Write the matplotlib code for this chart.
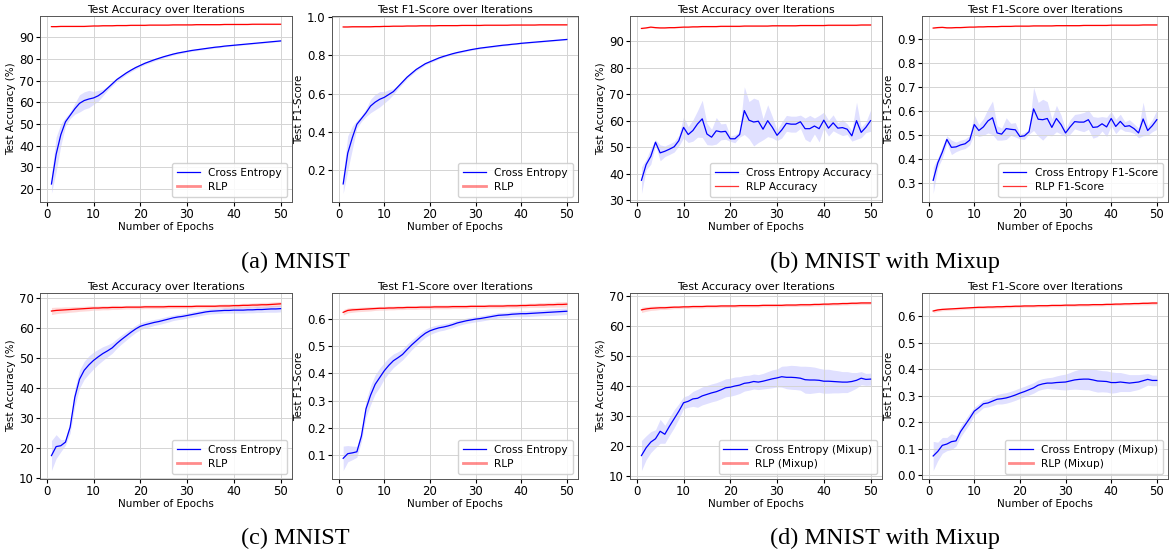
import numpy as np
import matplotlib
matplotlib.use("Agg")
import matplotlib.pyplot as plt
from matplotlib.lines import Line2D
from matplotlib.ticker import MultipleLocator

# === Epoch axis ===
epochs = list(range(1, 51))

# === (a) MNIST ===
a_acc_ce = [22.3, 36.0, 45.0, 51.0, 54.0, 57.0, 59.5, 60.8, 61.5, 62.0,
            63.0, 64.5, 66.5, 68.5, 70.5, 72.0, 73.5, 74.8, 76.0, 77.0,
            78.0, 78.8, 79.6, 80.3, 81.0, 81.6, 82.2, 82.7, 83.1, 83.5,
            83.9, 84.2, 84.5, 84.8, 85.1, 85.4, 85.6, 85.9, 86.1, 86.3,
            86.5, 86.7, 86.9, 87.1, 87.3, 87.5, 87.7, 87.9, 88.1, 88.3]
a_acc_ce_std = [4.3, 8.0, 5.0, 2.0, 1.5, 2.5, 4.0, 4.0, 4.0, 3.0,
                2.5, 1.5, 1.0, 0.9, 0.8, 0.8, 0.7, 0.7, 0.7, 0.6,
                0.6, 0.6, 0.6, 0.5, 0.5, 0.5, 0.5, 0.5, 0.5, 0.4,
                0.4, 0.4, 0.4, 0.4, 0.4, 0.4, 0.4, 0.3, 0.3, 0.3,
                0.3, 0.3, 0.3, 0.3, 0.3, 0.3, 0.3, 0.3, 0.3, 0.3]
a_acc_rlp = [94.9, 94.9, 95.0, 95.0, 95.0, 95.0, 95.0, 95.0, 95.1, 95.2,
             95.2, 95.3, 95.3, 95.3, 95.4, 95.4, 95.4, 95.5, 95.5, 95.5,
             95.5, 95.6, 95.6, 95.6, 95.6, 95.6, 95.7, 95.7, 95.7, 95.7,
             95.7, 95.8, 95.8, 95.8, 95.8, 95.8, 95.8, 95.9, 95.9, 95.9,
             95.9, 95.9, 95.9, 96.0, 96.0, 96.0, 96.0, 96.0, 96.0, 96.0]
a_acc_rlp_std = [0.2, 0.2, 0.2, 0.2, 0.2, 0.2, 0.2, 0.2, 0.2, 0.2,
                 0.2, 0.2, 0.2, 0.2, 0.2, 0.2, 0.2, 0.2, 0.2, 0.2,
                 0.2, 0.2, 0.2, 0.2, 0.2, 0.2, 0.2, 0.2, 0.2, 0.2,
                 0.2, 0.2, 0.2, 0.2, 0.2, 0.2, 0.2, 0.2, 0.2, 0.2,
                 0.2, 0.2, 0.2, 0.2, 0.2, 0.2, 0.2, 0.2, 0.2, 0.2]
a_f1_ce = [0.13, 0.29, 0.37, 0.44, 0.47, 0.50, 0.535, 0.555, 0.57, 0.58,
           0.595, 0.61, 0.635, 0.66, 0.685, 0.705, 0.725, 0.74, 0.755, 0.765,
           0.775, 0.785, 0.793, 0.80, 0.807, 0.813, 0.818, 0.823, 0.828, 0.832,
           0.836, 0.839, 0.842, 0.845, 0.848, 0.851, 0.853, 0.856, 0.858, 0.861,
           0.863, 0.865, 0.867, 0.869, 0.871, 0.873, 0.875, 0.877, 0.879, 0.881]
a_f1_ce_std = [0.05, 0.09, 0.06, 0.02, 0.015, 0.02, 0.035, 0.04, 0.04, 0.03,
               0.025, 0.015, 0.01, 0.01, 0.008, 0.008, 0.007, 0.007, 0.006, 0.006,
               0.006, 0.005, 0.005, 0.005, 0.005, 0.005, 0.005, 0.004, 0.004, 0.004,
               0.004, 0.004, 0.004, 0.004, 0.004, 0.004, 0.004, 0.003, 0.003, 0.003,
               0.003, 0.003, 0.003, 0.003, 0.003, 0.003, 0.003, 0.003, 0.003, 0.003]
a_f1_rlp = [0.946, 0.946, 0.947, 0.947, 0.947, 0.947, 0.947, 0.948, 0.948, 0.949,
            0.949, 0.950, 0.950, 0.950, 0.951, 0.951, 0.951, 0.952, 0.952, 0.952,
            0.952, 0.953, 0.953, 0.953, 0.953, 0.953, 0.954, 0.954, 0.954, 0.954,
            0.954, 0.955, 0.955, 0.955, 0.955, 0.955, 0.955, 0.956, 0.956, 0.956,
            0.956, 0.956, 0.956, 0.957, 0.957, 0.957, 0.957, 0.957, 0.957, 0.957]
a_f1_rlp_std = [0.002, 0.002, 0.002, 0.002, 0.002, 0.002, 0.002, 0.002, 0.002, 0.002,
                0.002, 0.002, 0.002, 0.002, 0.002, 0.002, 0.002, 0.002, 0.002, 0.002,
                0.002, 0.002, 0.002, 0.002, 0.002, 0.002, 0.002, 0.002, 0.002, 0.002,
                0.002, 0.002, 0.002, 0.002, 0.002, 0.002, 0.002, 0.002, 0.002, 0.002,
                0.002, 0.002, 0.002, 0.002, 0.002, 0.002, 0.002, 0.002, 0.002, 0.002]

# === (b) MNIST with Mixup ===
b_acc_ce = [37.6, 43.5, 46.6, 51.9, 47.9, 48.5, 49.3, 50.2, 52.5, 57.5,
            54.8, 56.3, 58.8, 60.7, 55.0, 53.8, 56.2, 55.8, 56.0, 53.2,
            53.2, 54.8, 63.8, 60.2, 59.5, 59.8, 56.8, 60.0, 57.5, 54.5,
            56.5, 59.0, 58.7, 58.7, 59.6, 57.0, 57.0, 58.0, 57.0, 60.2,
            57.2, 59.2, 57.2, 57.4, 56.8, 54.3, 60.0, 55.6, 57.5, 60.0]
b_acc_ce_std = [5.0, 2.0, 3.0, 1.0, 3.0, 2.0, 2.0, 2.0, 2.0, 4.0,
                3.0, 4.0, 5.0, 7.0, 4.0, 3.0, 5.0, 3.0, 3.0, 1.0,
                1.5, 1.0, 9.0, 7.0, 9.0, 8.0, 4.0, 6.0, 4.0, 2.0,
                3.0, 3.0, 3.0, 3.0, 2.5, 4.0, 5.0, 3.0, 5.0, 3.0,
                3.0, 3.0, 2.0, 3.0, 2.0, 2.0, 7.0, 2.0, 2.0, 4.0]
b_acc_rlp = [94.7, 94.9, 95.2, 95.0, 94.9, 94.9, 95.0, 95.0, 95.1, 95.2,
             95.2, 95.3, 95.3, 95.4, 95.4, 95.4, 95.4, 95.5, 95.5, 95.5,
             95.5, 95.5, 95.6, 95.6, 95.6, 95.6, 95.6, 95.6, 95.7, 95.7,
             95.7, 95.7, 95.7, 95.7, 95.8, 95.8, 95.8, 95.8, 95.8, 95.8,
             95.9, 95.9, 95.9, 95.9, 95.9, 95.9, 95.9, 96.0, 96.0, 96.0]
b_acc_rlp_std = [0.2, 0.2, 0.2, 0.2, 0.2, 0.2, 0.2, 0.2, 0.2, 0.2,
                 0.2, 0.2, 0.2, 0.2, 0.2, 0.2, 0.2, 0.2, 0.2, 0.2,
                 0.2, 0.2, 0.2, 0.2, 0.2, 0.2, 0.2, 0.2, 0.2, 0.2,
                 0.2, 0.2, 0.2, 0.2, 0.2, 0.2, 0.2, 0.2, 0.2, 0.2,
                 0.2, 0.2, 0.2, 0.2, 0.2, 0.2, 0.2, 0.2, 0.2, 0.2]
b_f1_ce = [0.313, 0.385, 0.43, 0.483, 0.45, 0.452, 0.46, 0.465, 0.48, 0.545,
           0.52, 0.535, 0.56, 0.573, 0.51, 0.505, 0.528, 0.525, 0.523, 0.495,
           0.498, 0.515, 0.61, 0.567, 0.565, 0.57, 0.533, 0.57, 0.545, 0.51,
           0.535, 0.557, 0.555, 0.555, 0.565, 0.533, 0.535, 0.548, 0.535, 0.57,
           0.537, 0.558, 0.537, 0.54, 0.528, 0.51, 0.568, 0.52, 0.54, 0.565]
b_f1_ce_std = [0.055, 0.02, 0.025, 0.015, 0.03, 0.02, 0.02, 0.02, 0.02, 0.04,
               0.025, 0.035, 0.05, 0.07, 0.03, 0.025, 0.045, 0.025, 0.03, 0.01,
               0.015, 0.01, 0.09, 0.07, 0.085, 0.07, 0.035, 0.055, 0.04, 0.015,
               0.03, 0.03, 0.035, 0.04, 0.04, 0.045, 0.04, 0.03, 0.04, 0.03,
               0.03, 0.03, 0.02, 0.025, 0.02, 0.02, 0.07, 0.02, 0.025, 0.04]
b_f1_rlp = [0.946, 0.948, 0.949, 0.947, 0.947, 0.948, 0.948, 0.949, 0.950, 0.950,
            0.951, 0.951, 0.952, 0.952, 0.952, 0.953, 0.953, 0.953, 0.954, 0.954,
            0.954, 0.954, 0.955, 0.955, 0.955, 0.955, 0.955, 0.956, 0.956, 0.956,
            0.956, 0.956, 0.956, 0.957, 0.957, 0.957, 0.957, 0.957, 0.957, 0.958,
            0.958, 0.958, 0.958, 0.958, 0.958, 0.958, 0.959, 0.959, 0.959, 0.959]
b_f1_rlp_std = [0.002, 0.002, 0.002, 0.002, 0.002, 0.002, 0.002, 0.002, 0.002, 0.002,
                0.002, 0.002, 0.002, 0.002, 0.002, 0.002, 0.002, 0.002, 0.002, 0.002,
                0.002, 0.002, 0.002, 0.002, 0.002, 0.002, 0.002, 0.002, 0.002, 0.002,
                0.002, 0.002, 0.002, 0.002, 0.002, 0.002, 0.002, 0.002, 0.002, 0.002,
                0.002, 0.002, 0.002, 0.002, 0.002, 0.002, 0.002, 0.002, 0.002, 0.002]

# === (c) MNIST ===
c_acc_ce = [17.5, 20.5, 20.8, 22.0, 27.0, 37.0, 43.0, 46.0, 47.8, 49.3,
            50.5, 51.6, 52.5, 53.5, 55.0, 56.3, 57.5, 58.7, 59.8, 60.7,
            61.2, 61.6, 62.0, 62.3, 62.7, 63.1, 63.5, 63.8, 64.0, 64.3,
            64.6, 64.9, 65.2, 65.5, 65.7, 65.8, 65.9, 66.0, 66.0, 66.1,
            66.1, 66.1, 66.2, 66.2, 66.3, 66.3, 66.4, 66.5, 66.5, 66.6]
c_acc_ce_std = [5.0, 4.0, 2.0, 1.0, 2.0, 3.0, 3.0, 3.0, 3.0, 2.8,
                2.5, 2.3, 2.0, 1.8, 1.6, 1.5, 1.4, 1.3, 1.2, 1.2,
                1.1, 1.1, 1.0, 1.0, 1.0, 1.0, 0.9, 0.9, 0.9, 0.9,
                0.9, 0.9, 0.9, 0.9, 0.9, 0.9, 0.9, 0.9, 0.9, 1.0,
                1.0, 1.0, 1.0, 1.0, 1.0, 1.0, 1.0, 1.1, 1.1, 1.1]
c_acc_rlp = [65.8, 66.0, 66.1, 66.2, 66.3, 66.4, 66.5, 66.6, 66.7, 66.8,
             66.8, 66.9, 66.9, 67.0, 67.0, 67.0, 67.1, 67.1, 67.1, 67.1,
             67.2, 67.2, 67.2, 67.2, 67.2, 67.3, 67.3, 67.3, 67.3, 67.3,
             67.3, 67.4, 67.4, 67.4, 67.4, 67.4, 67.5, 67.5, 67.5, 67.6,
             67.6, 67.7, 67.7, 67.8, 67.8, 67.9, 67.9, 68.0, 68.1, 68.2]
c_acc_rlp_std = [1.2, 1.1, 1.0, 1.0, 0.9, 0.9, 0.8, 0.8, 0.8, 0.7,
                 0.7, 0.7, 0.7, 0.7, 0.7, 0.6, 0.6, 0.6, 0.6, 0.6,
                 0.6, 0.6, 0.6, 0.6, 0.6, 0.6, 0.6, 0.6, 0.6, 0.6,
                 0.6, 0.6, 0.6, 0.6, 0.6, 0.6, 0.6, 0.7, 0.7, 0.7,
                 0.7, 0.7, 0.7, 0.7, 0.8, 0.8, 0.8, 0.8, 0.8, 0.8]
c_f1_ce = [0.088, 0.105, 0.108, 0.112, 0.17, 0.27, 0.32, 0.36, 0.385, 0.41,
           0.43, 0.447, 0.458, 0.47, 0.488, 0.505, 0.52, 0.535, 0.548, 0.557,
           0.563, 0.568, 0.571, 0.575, 0.58, 0.586, 0.59, 0.594, 0.597, 0.60,
           0.602, 0.605, 0.608, 0.611, 0.614, 0.615, 0.616, 0.618, 0.619, 0.62,
           0.62, 0.621, 0.622, 0.623, 0.624, 0.625, 0.626, 0.627, 0.628, 0.629]
c_f1_ce_std = [0.045, 0.03, 0.025, 0.02, 0.02, 0.03, 0.035, 0.035, 0.035, 0.03,
               0.028, 0.025, 0.022, 0.02, 0.02, 0.018, 0.017, 0.016, 0.015, 0.014,
               0.013, 0.012, 0.012, 0.011, 0.011, 0.011, 0.010, 0.010, 0.010, 0.010,
               0.010, 0.010, 0.010, 0.010, 0.010, 0.010, 0.010, 0.010, 0.010, 0.011,
               0.011, 0.011, 0.011, 0.011, 0.011, 0.012, 0.012, 0.012, 0.012, 0.012]
c_f1_rlp = [0.625, 0.632, 0.634, 0.635, 0.636, 0.637, 0.638, 0.639, 0.640, 0.640,
            0.641, 0.641, 0.642, 0.642, 0.643, 0.643, 0.643, 0.644, 0.644, 0.644,
            0.645, 0.645, 0.645, 0.645, 0.646, 0.646, 0.646, 0.646, 0.647, 0.647,
            0.647, 0.647, 0.648, 0.648, 0.648, 0.648, 0.649, 0.649, 0.649, 0.650,
            0.650, 0.651, 0.651, 0.652, 0.652, 0.653, 0.653, 0.654, 0.654, 0.655]
c_f1_rlp_std = [0.010, 0.009, 0.009, 0.008, 0.008, 0.008, 0.008, 0.007, 0.007, 0.007,
                0.007, 0.007, 0.007, 0.007, 0.007, 0.007, 0.007, 0.007, 0.007, 0.007,
                0.007, 0.007, 0.007, 0.007, 0.007, 0.007, 0.007, 0.007, 0.007, 0.007,
                0.007, 0.007, 0.007, 0.007, 0.007, 0.007, 0.007, 0.008, 0.008, 0.008,
                0.008, 0.008, 0.008, 0.009, 0.009, 0.009, 0.009, 0.010, 0.010, 0.010]

# === (d) MNIST with Mixup ===
d_acc_ce = [16.7, 19.3, 21.2, 22.3, 24.8, 23.8, 26.5, 29.0, 31.5, 34.3,
            34.8, 35.6, 35.8, 36.6, 37.1, 37.6, 38.0, 38.6, 39.3, 39.5,
            39.9, 40.2, 40.8, 41.0, 41.4, 41.2, 41.5, 41.9, 42.3, 42.6,
            43.0, 42.8, 42.8, 42.7, 42.5, 42.0, 41.9, 41.9, 41.8, 41.5,
            41.5, 41.4, 41.3, 41.2, 41.2, 41.4, 41.8, 42.5, 42.1, 42.2]
d_acc_ce_std = [5.0, 4.0, 3.5, 3.0, 4.0, 3.0, 3.0, 3.0, 2.5, 2.0,
                2.0, 2.5, 3.0, 3.0, 3.0, 3.0, 3.0, 3.0, 3.0, 3.0,
                3.0, 2.8, 2.6, 2.5, 2.5, 2.5, 2.6, 2.8, 3.0, 3.0,
                3.5, 3.8, 4.0, 4.0, 4.0, 4.5, 4.5, 4.3, 4.0, 4.0,
                4.0, 3.8, 3.7, 3.5, 3.5, 3.0, 2.6, 2.2, 2.0, 2.0]
d_acc_rlp = [65.3, 65.6, 65.8, 65.9, 66.0, 66.0, 66.1, 66.2, 66.2, 66.3,
             66.3, 66.4, 66.4, 66.4, 66.5, 66.5, 66.5, 66.6, 66.6, 66.6,
             66.6, 66.7, 66.7, 66.7, 66.7, 66.7, 66.8, 66.8, 66.8, 66.8,
             66.8, 66.9, 66.9, 66.9, 67.0, 67.0, 67.0, 67.1, 67.1, 67.2,
             67.2, 67.3, 67.3, 67.4, 67.4, 67.5, 67.5, 67.6, 67.6, 67.6]
d_acc_rlp_std = [0.9, 0.8, 0.7, 0.7, 0.6, 0.6, 0.6, 0.5, 0.5, 0.5,
                 0.5, 0.5, 0.5, 0.5, 0.5, 0.5, 0.5, 0.5, 0.5, 0.5,
                 0.5, 0.5, 0.5, 0.5, 0.5, 0.5, 0.5, 0.5, 0.5, 0.5,
                 0.5, 0.5, 0.5, 0.5, 0.5, 0.5, 0.5, 0.5, 0.5, 0.5,
                 0.5, 0.5, 0.5, 0.5, 0.5, 0.5, 0.5, 0.5, 0.5, 0.5]
d_f1_ce = [0.073, 0.09, 0.113, 0.118, 0.127, 0.13, 0.165, 0.19, 0.215, 0.242,
           0.255, 0.27, 0.273, 0.28, 0.287, 0.289, 0.292, 0.297, 0.303, 0.31,
           0.316, 0.323, 0.33, 0.34, 0.345, 0.348, 0.348, 0.35, 0.351, 0.352,
           0.356, 0.36, 0.362, 0.363, 0.363, 0.36, 0.356, 0.355, 0.354, 0.35,
           0.35, 0.352, 0.35, 0.348, 0.35, 0.352, 0.357, 0.362, 0.358, 0.358]
d_f1_ce_std = [0.055, 0.035, 0.03, 0.025, 0.03, 0.02, 0.02, 0.02, 0.02, 0.015,
               0.015, 0.015, 0.015, 0.017, 0.018, 0.02, 0.02, 0.02, 0.02, 0.02,
               0.02, 0.02, 0.02, 0.02, 0.02, 0.02, 0.022, 0.025, 0.028, 0.03,
               0.032, 0.035, 0.038, 0.04, 0.04, 0.042, 0.042, 0.04, 0.04, 0.04,
               0.038, 0.036, 0.034, 0.032, 0.03, 0.028, 0.025, 0.022, 0.02, 0.02]
d_f1_rlp = [0.620, 0.624, 0.626, 0.627, 0.628, 0.629, 0.630, 0.631, 0.632, 0.633,
            0.634, 0.634, 0.635, 0.635, 0.636, 0.636, 0.637, 0.637, 0.638, 0.638,
            0.639, 0.639, 0.639, 0.640, 0.640, 0.640, 0.641, 0.641, 0.641, 0.642,
            0.642, 0.642, 0.643, 0.643, 0.643, 0.644, 0.644, 0.644, 0.645, 0.645,
            0.646, 0.646, 0.647, 0.647, 0.648, 0.648, 0.649, 0.649, 0.650, 0.650]
d_f1_rlp_std = [0.006, 0.006, 0.005, 0.005, 0.005, 0.005, 0.005, 0.005, 0.005, 0.005,
                0.005, 0.005, 0.005, 0.005, 0.005, 0.005, 0.005, 0.005, 0.005, 0.005,
                0.005, 0.005, 0.005, 0.005, 0.005, 0.005, 0.005, 0.005, 0.005, 0.005,
                0.005, 0.005, 0.005, 0.005, 0.005, 0.005, 0.005, 0.005, 0.005, 0.005,
                0.005, 0.005, 0.005, 0.005, 0.005, 0.005, 0.006, 0.006, 0.006, 0.006]

captions = ["(a) MNIST", "(b) MNIST with Mixup", "(c) MNIST", "(d) MNIST with Mixup"]


def draw_panel(ax, ce, ce_std, rlp, rlp_std, title, ylabel, labels, thick_rlp_handle, ystep):
    x = np.array(epochs)
    ce = np.array(ce)
    ce_std = np.array(ce_std)
    rlp = np.array(rlp)
    rlp_std = np.array(rlp_std)
    ax.plot(x, ce, color="blue", lw=0.9)
    ax.fill_between(x, ce - ce_std, ce + ce_std, color="blue", alpha=0.12, lw=0)
    ax.plot(x, rlp, color="red", lw=0.9)
    ax.fill_between(x, rlp - rlp_std, rlp + rlp_std, color="red", alpha=0.15, lw=0)
    ax.set_title(title, fontsize=7.8, pad=2.5)
    ax.set_xlabel("Number of Epochs", fontsize=7.5, labelpad=0.5)
    ax.set_ylabel(ylabel, fontsize=7.5, labelpad=2)
    ax.set_xticks([0, 10, 20, 30, 40, 50])
    ax.yaxis.set_major_locator(MultipleLocator(ystep))
    ax.tick_params(labelsize=8.5, length=3, pad=1.5)
    ax.grid(True, color="#d4d4d4", lw=0.7)
    for s in ax.spines.values():
        s.set_color("#555555")
        s.set_linewidth(0.7)
    if thick_rlp_handle:
        rlp_handle = Line2D([], [], color="red", alpha=0.45, lw=2.0)
    else:
        rlp_handle = Line2D([], [], color="red", alpha=0.8, lw=0.9)
    handles = [Line2D([], [], color="blue", lw=0.9), rlp_handle]
    ax.legend(handles, labels, loc="lower right", fontsize=7.6, handlelength=2.2,
              borderpad=0.45, labelspacing=0.4, framealpha=0.85, edgecolor="#cccccc")


fig = plt.figure(figsize=(11.72, 5.5), dpi=100)

col_x = [40, 332, 630, 922]
col_w = [252, 246, 252, 246]
row_top = [16, 293]
ax_h = 186
W, H = 1172, 550

panels = [
    (0, 0, a_acc_ce, a_acc_ce_std, a_acc_rlp, a_acc_rlp_std, "acc", ["Cross Entropy", "RLP"], True, 10),
    (0, 1, a_f1_ce, a_f1_ce_std, a_f1_rlp, a_f1_rlp_std, "f1", ["Cross Entropy", "RLP"], True, 0.2),
    (0, 2, b_acc_ce, b_acc_ce_std, b_acc_rlp, b_acc_rlp_std, "acc", ["Cross Entropy Accuracy", "RLP Accuracy"], False, 10),
    (0, 3, b_f1_ce, b_f1_ce_std, b_f1_rlp, b_f1_rlp_std, "f1", ["Cross Entropy F1-Score", "RLP F1-Score"], False, 0.1),
    (1, 0, c_acc_ce, c_acc_ce_std, c_acc_rlp, c_acc_rlp_std, "acc", ["Cross Entropy", "RLP"], True, 10),
    (1, 1, c_f1_ce, c_f1_ce_std, c_f1_rlp, c_f1_rlp_std, "f1", ["Cross Entropy", "RLP"], True, 0.1),
    (1, 2, d_acc_ce, d_acc_ce_std, d_acc_rlp, d_acc_rlp_std, "acc", ["Cross Entropy (Mixup)", "RLP (Mixup)"], True, 10),
    (1, 3, d_f1_ce, d_f1_ce_std, d_f1_rlp, d_f1_rlp_std, "f1", ["Cross Entropy (Mixup)", "RLP (Mixup)"], True, 0.1),
]

for r, c, ce, ce_std, rlp, rlp_std, kind, labels, thick, ystep in panels:
    ax = fig.add_axes([col_x[c] / W, 1 - (row_top[r] + ax_h) / H, col_w[c] / W, ax_h / H])
    if kind == "acc":
        title, ylabel = "Test Accuracy over Iterations", "Test Accuracy (%)"
    else:
        title, ylabel = "Test F1-Score over Iterations", "Test F1-Score"
    draw_panel(ax, ce, ce_std, rlp, rlp_std, title, ylabel, labels, thick, ystep)
    if r == 0 and c == 0:
        ax.set_ylim(14, 99.8)

# === Sub-figure captions ===
cap_pos = [(295, 262), (885, 262), (295, 538), (885, 538)]
for text, (cx, cy) in zip(captions, cap_pos):
    fig.text(cx / W, 1 - cy / H, text, ha="center", va="center",
             fontsize=17.5, family="Liberation Serif")

fig.savefig("out.png", dpi=100)
